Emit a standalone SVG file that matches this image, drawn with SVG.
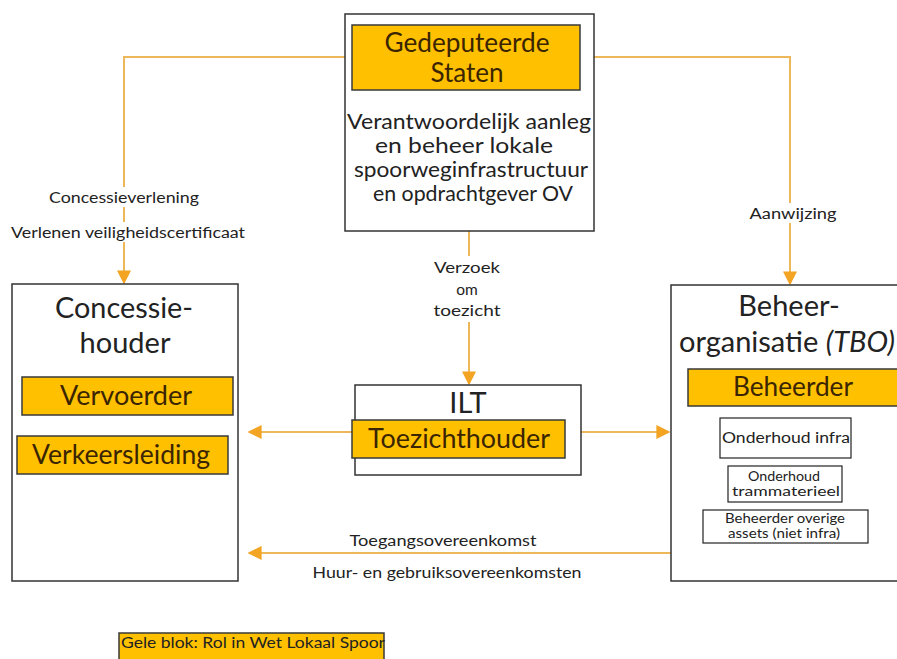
<svg xmlns="http://www.w3.org/2000/svg" width="897" height="659" viewBox="0 0 897 659">
<defs>
<style>
text{font-family:Lato,"Open Sans","Liberation Sans",sans-serif;fill:#222;}
.box{fill:#fff;stroke:#333;stroke-width:1.5;}
.role{fill:#FFC000;stroke:#3a3a3a;stroke-width:1.5;}
.sub{fill:#fff;stroke:#222;stroke-width:1.2;}
.conn{fill:none;stroke:#EDB85A;stroke-width:2;}
.bg{fill:#fff;}
.t28{font-size:29px;text-anchor:middle;}
.t22{font-size:26px;text-anchor:middle;fill:#3a2500;}
.t19{font-size:21px;text-anchor:middle;}
.t14{font-size:15.5px;text-anchor:middle;}
.t11{font-size:13px;text-anchor:middle;}
</style>
<marker id="ah2" viewBox="0 0 10 10" refX="9" refY="5" markerWidth="14" markerHeight="14" markerUnits="userSpaceOnUse" orient="auto">
<path d="M0,0 L10,5 L0,10 z" fill="#F2A422"/>
</marker>
</defs>
<rect width="897" height="659" fill="#fff"/>

<g id="connectors">
<path class="conn" d="M345,57 H124 V283" marker-end="url(#ah2)"/>
<path class="conn" d="M594,57 H790 V284" marker-end="url(#ah2)"/>
<path class="conn" d="M469,231 V256"/>
<path class="conn" d="M469,322 V384" marker-end="url(#ah2)"/>
<path class="conn" d="M352,432 H249" marker-end="url(#ah2)"/>
<path class="conn" d="M581,432 H669" marker-end="url(#ah2)"/>
<path class="conn" d="M671,553 H249" marker-end="url(#ah2)"/>
<rect class="bg" x="48" y="187" width="154" height="20"/>
<rect class="bg" x="8" y="222" width="240" height="20"/>
<rect class="bg" x="747" y="203" width="92" height="20"/>
<text class="t14" x="124" y="203" textLength="150" lengthAdjust="spacingAndGlyphs">Concessieverlening</text>
<text class="t14" x="128" y="238" textLength="234" lengthAdjust="spacingAndGlyphs">Verlenen veiligheidscertificaat</text>
<text class="t14" x="793" y="219" textLength="87" lengthAdjust="spacingAndGlyphs">Aanwijzing</text>
<text class="t14" x="467" y="273" textLength="66" lengthAdjust="spacingAndGlyphs">Verzoek</text>
<text class="t14" x="467" y="295">om</text>
<text class="t14" x="467" y="316" textLength="67" lengthAdjust="spacingAndGlyphs">toezicht</text>
<text class="t14" x="443" y="546" textLength="187" lengthAdjust="spacingAndGlyphs">Toegangsovereenkomst</text>
<text class="t14" x="447" y="578" textLength="269" lengthAdjust="spacingAndGlyphs">Huur- en gebruiksovereenkomsten</text>
</g>

<g id="gedeputeerde-staten">
<rect class="box" x="345" y="14" width="249" height="217"/>
<rect class="role" x="352" y="25" width="228" height="65"/>
<text class="t22" x="467" y="52" textLength="165" lengthAdjust="spacingAndGlyphs">Gedeputeerde</text>
<text class="t22" x="467" y="82">Staten</text>
<text class="t19" x="469" y="129" textLength="244" lengthAdjust="spacingAndGlyphs">Verantwoordelijk aanleg</text>
<text class="t19" x="464" y="153" textLength="178" lengthAdjust="spacingAndGlyphs">en beheer lokale</text>
<text class="t19" x="471" y="177" textLength="234" lengthAdjust="spacingAndGlyphs">spoorweginfrastructuur</text>
<text class="t19" x="473" y="201" textLength="200" lengthAdjust="spacingAndGlyphs">en opdrachtgever OV</text>
</g>

<g id="concessiehouder">
<rect class="box" x="12" y="284" width="226" height="297"/>
<text class="t28" x="124" y="318" textLength="138" lengthAdjust="spacingAndGlyphs">Concessie-</text>
<text class="t28" x="125" y="353">houder</text>
<rect class="role" x="22" y="377" width="211" height="38"/>
<text class="t22" x="126" y="405" textLength="132" lengthAdjust="spacingAndGlyphs">Vervoerder</text>
<rect class="role" x="17" y="436" width="211" height="38"/>
<text class="t22" x="121" y="464" textLength="178" lengthAdjust="spacingAndGlyphs">Verkeersleiding</text>
</g>

<g id="ilt">
<rect class="box" x="355" y="385" width="226" height="90"/>
<text class="t28" x="468" y="413">ILT</text>
<rect class="role" x="352" y="420" width="213" height="38"/>
<text class="t22" x="459" y="448" textLength="182" lengthAdjust="spacingAndGlyphs">Toezichthouder</text>
</g>

<g id="beheerorganisatie">
<rect class="box" x="671" y="285" width="240" height="296"/>
<text class="t28" x="789" y="316">Beheer-</text>
<text class="t28" x="787" y="352">organisatie <tspan font-style="italic">(TBO)</tspan></text>
<rect class="role" x="688" y="369" width="215" height="37"/>
<text class="t22" x="793" y="396" textLength="120" lengthAdjust="spacingAndGlyphs">Beheerder</text>
<rect class="sub" x="720" y="418" width="131" height="40"/>
<text class="t14" x="786" y="443" font-size="16.5" textLength="128" lengthAdjust="spacingAndGlyphs">Onderhoud infra</text>
<rect class="sub" x="728" y="466" width="114" height="36"/>
<text class="t11" x="784" y="481" textLength="72" lengthAdjust="spacingAndGlyphs">Onderhoud</text>
<text class="t11" x="786" y="496" textLength="108" lengthAdjust="spacingAndGlyphs">trammaterieel</text>
<rect class="sub" x="703" y="510" width="165" height="33"/>
<text class="t11" x="785" y="523" textLength="120" lengthAdjust="spacingAndGlyphs">Beheerder overige</text>
<text class="t11" x="784" y="538" textLength="112" lengthAdjust="spacingAndGlyphs">assets (niet infra)</text>
</g>

<g id="legend">
<rect class="role" x="119" y="633" width="265" height="40"/>
<text x="121" y="648" font-size="15" fill="#3a2500" textLength="264" lengthAdjust="spacingAndGlyphs">Gele blok: Rol in Wet Lokaal Spoor</text>
</g>
</svg>
